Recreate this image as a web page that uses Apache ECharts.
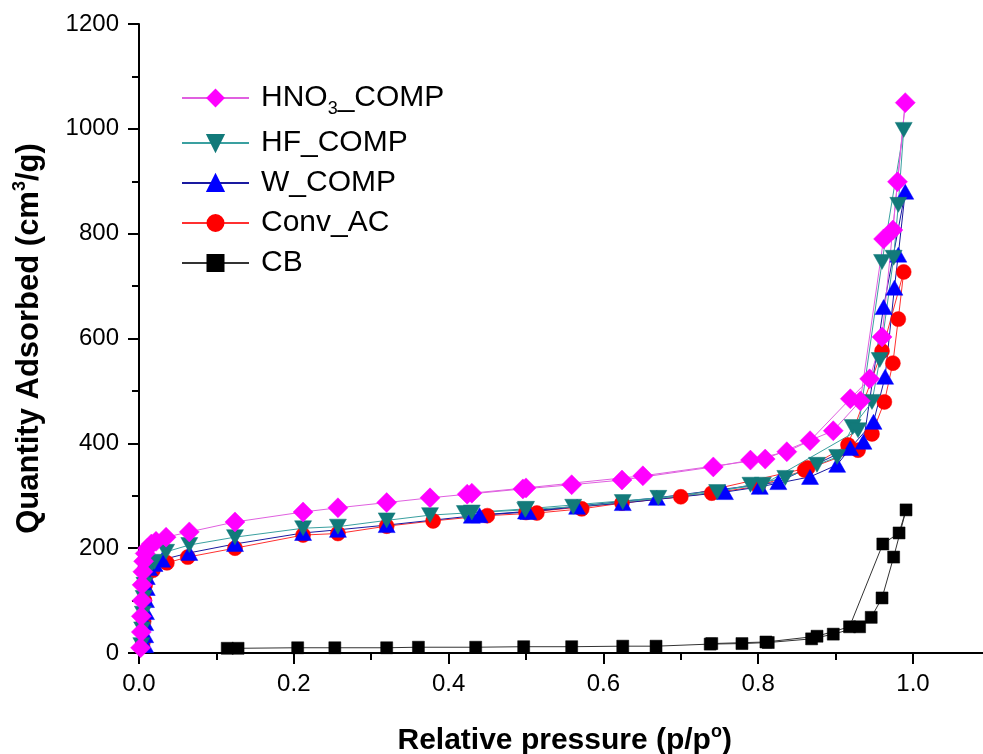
<!DOCTYPE html>
<html>
<head>
<meta charset="utf-8">
<script src="https://cdn.jsdelivr.net/npm/echarts@6/dist/echarts.min.js"></script>
<style>html,body{margin:0;padding:0;background:#fff;}#chart{width:983px;height:754px;}</style>
</head>
<body>
<div id="chart"></div>
<script>
// Relative pressure (p/p0), Quantity adsorbed (cm3/g): adsorption branch then desorption branch
const hno3Data = [[0.002,10],[0.003,40],[0.003,70],[0.004,100],[0.004,130],[0.005,155],[0.006,175],[0.008,190],[0.011,200],[0.016,208],[0.022,213],[0.035,221],[0.065,231],[0.124,250],[0.212,269],[0.257,277],[0.320,287],[0.376,296],[0.424,303],[0.496,313],[0.559,321],[0.624,330],[0.742,355],[0.790,368],[0.837,384],[0.867,405],[0.919,485],[0.944,523],[0.960,603],[0.980,899],[0.990,1050],[0.974,807],[0.962,790],[0.932,481],[0.897,424],[0.809,370],[0.651,338],[0.500,315],[0.430,305]];
const hfData = [[0.003,15],[0.004,45],[0.005,75],[0.006,105],[0.007,130],[0.009,150],[0.012,165],[0.020,174],[0.035,193],[0.065,206],[0.124,221],[0.212,238],[0.257,241],[0.320,253],[0.376,263],[0.421,267],[0.499,273],[0.561,279],[0.625,288],[0.747,307],[0.790,321],[0.835,334],[0.876,359],[0.902,374],[0.922,431],[0.947,479],[0.957,559],[0.975,754],[0.981,855],[0.988,998],[0.960,746],[0.929,425],[0.806,321],[0.671,296],[0.500,275],[0.430,268]];
const wData = [[0.008,15],[0.008,34],[0.008,57],[0.009,78],[0.009,101],[0.010,124],[0.010,145],[0.013,162],[0.020,170],[0.030,178],[0.065,191],[0.124,208],[0.212,229],[0.257,235],[0.320,244],[0.440,263],[0.503,269],[0.566,279],[0.625,286],[0.757,307],[0.802,317],[0.867,336],[0.902,359],[0.919,391],[0.949,441],[0.964,527],[0.976,697],[0.981,760],[0.990,880],[0.962,660],[0.936,403],[0.826,326],[0.669,296],[0.500,270],[0.430,262]];
const convData = [[0.005,20],[0.006,60],[0.007,100],[0.008,130],[0.010,150],[0.018,158],[0.036,172],[0.063,183],[0.124,200],[0.212,225],[0.257,228],[0.320,242],[0.380,252],[0.450,262],[0.514,267],[0.572,275],[0.624,286],[0.740,305],[0.800,318],[0.860,349],[0.929,387],[0.947,418],[0.963,479],[0.974,553],[0.981,637],[0.988,727],[0.960,576],[0.916,397],[0.864,353],[0.700,298],[0.500,268]];
const cbData = [[0.114,9],[0.128,9],[0.205,10],[0.253,10],[0.320,10],[0.361,11],[0.435,11],[0.497,12],[0.559,12],[0.625,13],[0.668,13],[0.738,17],[0.779,18],[0.813,20],[0.869,27],[0.897,36],[0.931,50],[0.946,68],[0.960,105],[0.975,183],[0.991,273],[0.982,229],[0.961,208],[0.918,50],[0.876,32],[0.810,21],[0.740,18]];
const seriesNames = ['HNO3_COMP','HF_COMP','W_COMP','Conv_AC','CB'];
const xTicks = [0.0, 0.2, 0.4, 0.6, 0.8, 1.0];
const yTicks = [0, 200, 400, 600, 800, 1000, 1200];

const FONT = 'Liberation Sans, Arial, sans-serif';
const chart = echarts.init(document.getElementById('chart'), null, {renderer:'canvas'});

function mk(name, data, color, lineColor, symbol, size, rotate) {
  return {
    name: name, type: 'line', data: data,
    symbol: symbol, symbolSize: size, symbolRotate: rotate || 0,
    showAllSymbol: true,
    lineStyle: {color: lineColor, width: 1},
    itemStyle: {color: color, borderColor: color, borderWidth: 0.5},
    emphasis: {disabled: true},
    z: 2
  };
}

chart.setOption({
  animation: false,
  backgroundColor: '#fff',
  grid: {left: 139, top: 24, width: 774 * 1.1, bottom: 101, containLabel: false, outerBoundsMode: 'none'},
  legend: {
    orient: 'vertical', left: 176, top: 73,
    itemWidth: 67, itemHeight: 20, itemGap: 10,
    data: seriesNames,
    formatter: function (n) { return n === 'HNO3_COMP' ? 'HNO{sub|3}_COMP' : n; },
    textStyle: {fontFamily: FONT, fontSize: 30, color: '#000', lineHeight: 30, padding: [0,0,0,7],
      rich: {sub: {fontFamily: FONT, fontSize: 18, color: '#000', verticalAlign: 'bottom', lineHeight: 40, padding:[14,0,0,0]}}}
  },
  xAxis: {
    type: 'value', min: 0, max: 1.1, interval: 0.2,
    name: 'Relative pressure (p/p{sup|o})', nameLocation: 'middle', nameGap: 70,
    nameTextStyle: {fontFamily: FONT, fontSize: 30, fontWeight: 'bold', color: '#000', lineHeight: 36,
      rich: {sup: {fontFamily: FONT, fontSize: 18, fontWeight: 'bold', color: '#000', verticalAlign: 'top', padding:[0,0,14,0]}}},
    axisLine: {lineStyle: {color: '#000', width: 2}},
    axisTick: {inside: false, length: 11, lineStyle: {color: '#000', width: 2}},
    minorTick: {show: true, splitNumber: 2, length: 7, lineStyle: {color: '#000', width: 2}},
    splitLine: {show: false},
    axisLabel: {fontFamily: FONT, fontSize: 24, color: '#000', margin: 19,
      formatter: function (v) { return xTicks.some(t => Math.abs(t - v) < 1e-6) ? v.toFixed(1) : ''; }}
  },
  yAxis: {
    type: 'value', min: 0, max: 1200, interval: 200,
    name: 'Quantity Adsorbed (cm{sup|3}/g)', nameLocation: 'middle', nameGap: 92, nameRotate: 90,
    nameTextStyle: {fontFamily: FONT, fontSize: 31, fontWeight: 'bold', color: '#000', lineHeight: 36,
      rich: {sup: {fontFamily: FONT, fontSize: 18, fontWeight: 'bold', color: '#000', verticalAlign: 'top', padding:[0,0,14,0]}}},
    axisLine: {show: true, lineStyle: {color: '#000', width: 2}},
    axisTick: {show: true, inside: false, length: 11, lineStyle: {color: '#000', width: 2}},
    minorTick: {show: true, splitNumber: 2, length: 7, lineStyle: {color: '#000', width: 2}},
    splitLine: {show: false},
    axisLabel: {fontFamily: FONT, fontSize: 24, color: '#000', margin: 20,
      formatter: function (v) { return yTicks.indexOf(v) >= 0 ? String(v) : ''; }}
  },
  series: [
    mk('CB', cbData, '#000000', '#333333', 'rect', 12),
    mk('Conv_AC', convData, '#ff0000', '#ff3030', 'circle', 15),
    mk('W_COMP', wData, '#0000ff', '#1a1aa0', 'triangle', [17, 15]),
    mk('HF_COMP', hfData, '#127a7a', '#3aa0a0', 'triangle', [17, 15], 180),
    mk('HNO3_COMP', hno3Data, '#ff00ff', '#e060e0', 'diamond', [20, 20])
  ]
});
</script>
</body>
</html>
